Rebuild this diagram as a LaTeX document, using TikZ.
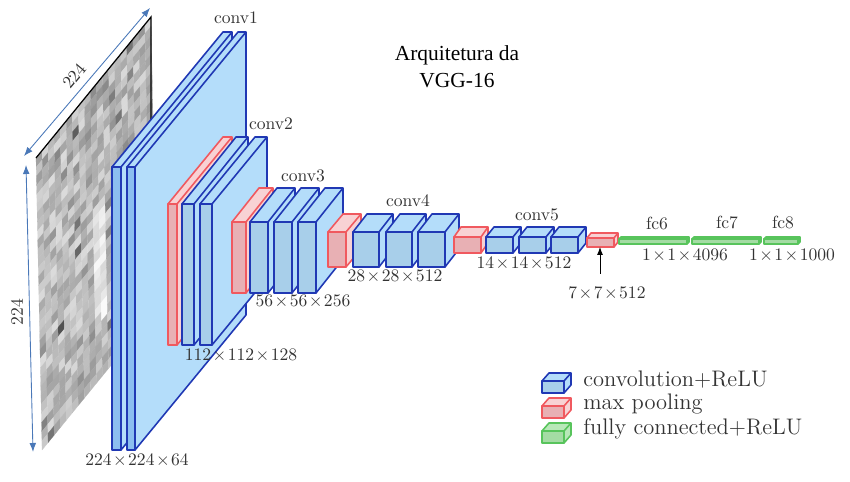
\documentclass[tikz,border=0pt]{standalone}
\usepackage{amsmath}
\usepackage{fontspec}
\newfontfamily\titlefont{Liberation Serif}
\usetikzlibrary{arrows.meta}
\definecolor{convedge}{HTML}{2038B4}
\definecolor{convlight}{HTML}{B4DDFA}
\definecolor{convface}{HTML}{A8CFEA}
\definecolor{wideface}{HTML}{8CBEF0}
\definecolor{pooledge}{HTML}{F0595F}
\definecolor{poollight}{HTML}{F8D2D4}
\definecolor{poolface}{HTML}{E8B0B4}
\definecolor{fcedge}{HTML}{58C45C}
\definecolor{fclight}{HTML}{B8E8B8}
\definecolor{fcface}{HTML}{A4DCA4}
\definecolor{dimblue}{HTML}{4A78B8}
\definecolor{inktext}{HTML}{333333}
\tikzstyle{convtop}=[draw=convedge, fill=convlight, line width=0.9pt, line join=round]
\tikzstyle{convfront}=[draw=convedge, fill=convface, line width=0.9pt, line join=round]
\tikzstyle{widetop}=[draw=convedge, fill=convlight, line width=0.9pt, line join=round]
\tikzstyle{widefront}=[draw=convedge, fill=wideface, line width=0.9pt, line join=round]
\tikzstyle{pooltop}=[draw=pooledge, fill=poollight, line width=0.9pt, line join=round]
\tikzstyle{poolfront}=[draw=pooledge, fill=poolface, line width=0.9pt, line join=round]
\tikzstyle{fctop}=[draw=fcedge, fill=fclight, line width=0.9pt, line join=round]
\tikzstyle{fcfront}=[draw=fcedge, fill=fcface, line width=0.9pt, line join=round]
\tikzstyle{dimarrow}=[color=dimblue, line width=0.5pt, <->, >={Latex[length=1.8mm]}]
\tikzstyle{arrow}=[color=black, line width=0.5pt, ->, >={Latex[length=1.6mm]}]
\tikzstyle{lbl}=[text=inktext, font=\normalsize, inner sep=0pt]
\tikzstyle{legendlbl}=[text=inktext, font=\fontsize{12.8}{15}\selectfont, inner sep=0pt, anchor=west]
\newcommand{\slab}[7]{
	\path [#7top] (#1, #3) -- (#1+#5, #3-#6) -- (#2+#5, #3-#6) -- (#2+#5, #4-#6) -- (#2, #4) -- (#2, #3) -- cycle;
	\path [#7top] (#2, #3) -- (#2+#5, #3-#6);
	\path [#7front] (#1, #3) rectangle (#2, #4);
}
\newcommand{\sizetext}[3]{$\medmuskip=1.5mu #1\times#2\times#3$}
\begin{document}
\begin{tikzpicture}[x=0.02cm, y=-0.02cm]
	\useasboundingbox (0, 0) rectangle (850, 482);
	\begin{scope}
		\pgfmathsetseed{11}
		\foreach \i in {0,...,18}{
			\foreach \j in {0,...,31}{
				\pgfmathsetmacro{\ux}{36+6.05*\i+0.19*\j}
				\pgfmathsetmacro{\uy}{158-7.42*\i+9.125*\j}
				\pgfmathsetmacro{\cx}{\ux+3.1}
				\pgfmathsetmacro{\cy}{\uy+0.85}
				\pgfmathtruncatemacro{\tone}{ifthenelse(abs(\cx-102)<6 && \cy>210 && \cy<315, 2+14*rnd, 14+24*rnd+52*rnd*rnd*rnd*rnd)}
				\path [fill=black!\tone, draw=black!\tone, line width=0.1pt] (\ux, \uy) -- ++(6.05, -7.42) -- ++(0.19, 9.125) -- ++(-6.05, 7.42) -- cycle;
			}
		}
		\coordinate (imgnw) at (36, 158);
		\coordinate (imgne) at (151, 17);
		\coordinate (imgse) at (151, 130);
		\path [draw=black, line width=0.7pt] (imgnw) -- (imgne) -- (imgse);
	\end{scope}
	\begin{scope}
		\coordinate (wa) at (24, 156);
		\coordinate (wb) at (150, 8);
		\coordinate (ha) at (26, 165);
		\coordinate (hb) at (33, 452);
		\path (wa) edge [dimarrow] (wb);
		\path (ha) edge [dimarrow] (hb);
		\node (imgw) at (74, 76)[lbl, rotate=50] {224};
		\node (imgh) at (17, 312)[lbl, rotate=90] {224};
	\end{scope}
	\begin{scope}
		\slab{112}{121}{167}{450}{111}{135}{wide}
		\slab{127}{135}{167}{450}{111}{135}{wide}
		\slab{168}{177}{204}{345}{55}{67}{pool}
		\slab{182}{194}{204}{345}{54}{67}{conv}
		\slab{200}{212}{204}{345}{55}{67}{conv}
		\slab{232}{246}{222}{293}{27}{34}{pool}
		\slab{250}{268}{222}{293}{27}{34}{conv}
		\slab{274}{292}{222}{293}{27}{34}{conv}
		\slab{298}{316}{222}{293}{27}{34}{conv}
		\slab{328}{346}{232}{267}{15}{18}{pool}
		\slab{353}{379}{232}{267}{14}{18}{conv}
		\slab{386}{412}{232}{267}{14}{18}{conv}
		\slab{418}{445}{232}{267}{14}{18}{conv}
		\slab{454}{481}{237}{253}{7}{10}{pool}
		\slab{486}{513}{237}{253}{8}{10}{conv}
		\slab{519}{546}{237}{253}{8}{10}{conv}
		\slab{551}{578}{237}{253}{8}{10}{conv}
		\slab{587}{614}{238}{247}{4}{5}{pool}
		\slab{619}{687}{239}{244}{2}{2}{fc}
		\slab{692}{759}{239}{244}{2}{2}{fc}
		\slab{764}{798}{239}{244}{2}{2}{fc}
	\end{scope}
	\begin{scope}
		\node (conv1) at (236, 18)[lbl] {conv1};
		\node (conv2) at (271, 124)[lbl] {conv2};
		\node (conv3) at (303, 176)[lbl] {conv3};
		\node (conv4) at (408, 201)[lbl] {conv4};
		\node (conv5) at (537, 215)[lbl] {conv5};
		\node (fc6) at (657, 224)[lbl] {fc6};
		\node (fc7) at (727, 223)[lbl] {fc7};
		\node (fc8) at (783, 223)[lbl] {fc8};
		\node (size1) at (137, 461)[lbl] {\sizetext{224}{224}{64}};
		\node (size2) at (241, 356)[lbl] {\sizetext{112}{112}{128}};
		\node (size3) at (303, 302)[lbl] {\sizetext{56}{56}{256}};
		\node (size4) at (395, 277)[lbl] {\sizetext{28}{28}{512}};
		\node (size5) at (524, 264)[lbl] {\sizetext{14}{14}{512}};
		\node (size6) at (607, 294)[lbl] {\sizetext{7}{7}{512}};
		\node (size7) at (685, 256)[lbl] {\sizetext{1}{1}{4096}};
		\node (size8) at (792, 256)[lbl] {\sizetext{1}{1}{1000}};
		\coordinate (pooltip) at (600, 247);
		\coordinate (poolfoot) at (600, 274);
		\path (poolfoot) edge [arrow] (pooltip);
		\node (title) at (457, 67)[align=center, text=black, inner sep=0pt, font=\titlefont\fontsize{12.2}{15.4}\selectfont] {Arquitetura da\\VGG-16};
	\end{scope}
	\begin{scope}
		\slab{542}{564}{381}{393}{7}{8}{conv}
		\slab{542}{564}{406}{418}{7}{8}{pool}
		\slab{542}{564}{431}{443}{7}{8}{fc}
		\node (legconv) at (583, 380)[legendlbl] {convolution+ReLU};
		\node (legpool) at (583, 404)[legendlbl] {max pooling};
		\node (legfc) at (583, 429)[legendlbl] {fully connected+ReLU};
	\end{scope}
\end{tikzpicture}
\end{document}
